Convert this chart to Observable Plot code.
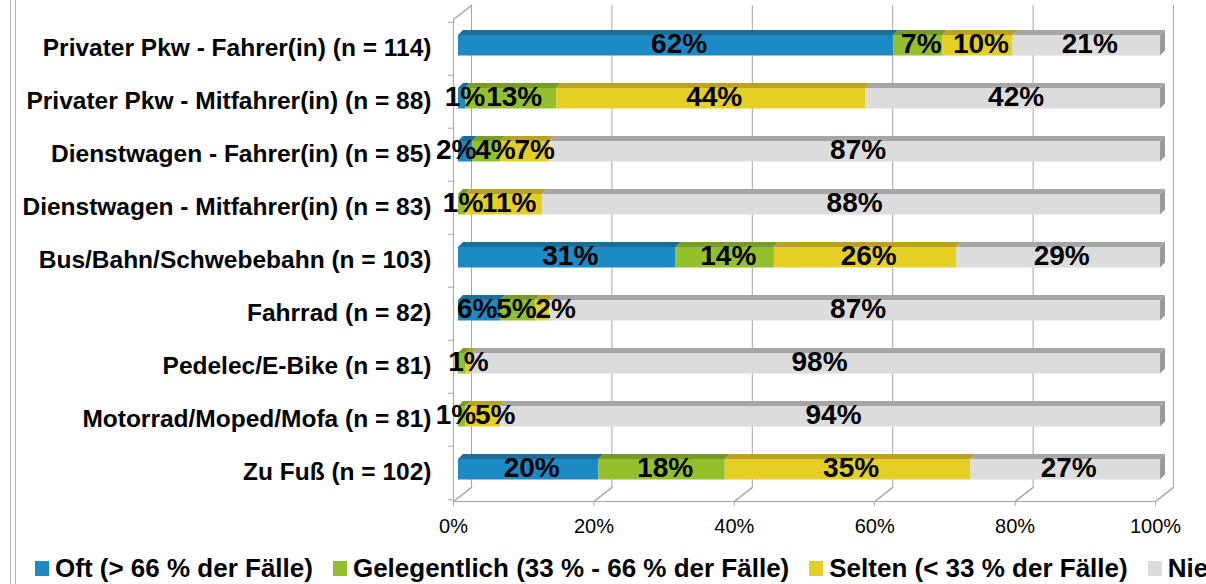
<!DOCTYPE html>
<html><head><meta charset="utf-8">
<script src="https://cdn.jsdelivr.net/npm/d3@7"></script>
<script src="https://cdn.jsdelivr.net/npm/@observablehq/plot@0.6"></script>
<style>
html,body{margin:0;padding:0;background:#fff;overflow:hidden;width:1206px;height:584px}
#wrap{position:relative;width:1206px;height:584px;font-family:"Liberation Sans",Arial,sans-serif}
#chart{position:absolute;left:0;top:0}
#border{position:absolute;left:10px;top:0;width:4px;height:584px;border-left:1px solid #b5b5b5;border-right:1px solid #b5b5b5}
#legend{position:absolute;left:0;top:553px;width:1206px;height:31px;display:flex;align-items:center;white-space:nowrap;overflow:hidden;font-weight:bold;font-size:26px;padding-left:35px;box-sizing:border-box;color:#000}
.item{display:flex;align-items:center;margin-right:20px;flex:none}
.sw{width:14px;height:15px;margin-right:6px;flex:none}
</style></head><body><div id="wrap"><div id="chart"></div><div id="legend"></div><div id="border"></div></div>
<script>
const categories = [
  "Privater Pkw - Fahrer(in) (n = 114)",
  "Privater Pkw - Mitfahrer(in) (n = 88)",
  "Dienstwagen - Fahrer(in) (n = 85)",
  "Dienstwagen - Mitfahrer(in) (n = 83)",
  "Bus/Bahn/Schwebebahn (n = 103)",
  "Fahrrad (n = 82)",
  "Pedelec/E-Bike (n = 81)",
  "Motorrad/Moped/Mofa (n = 81)",
  "Zu Fuß (n = 102)"
];
const seriesNames = ["Oft (> 66 % der Fälle)", "Gelegentlich (33 % - 66 % der Fälle)", "Selten (< 33 % der Fälle)", "Nie"];
const oft          = [62, 1, 2, 0, 31, 6, 0, 0, 20];
const gelegentlich = [7, 13, 4, 1, 14, 5, 1, 1, 18];
const selten       = [10, 44, 7, 11, 26, 2, 1, 5, 35];
const nie          = [21, 42, 87, 88, 29, 87, 98, 94, 27];
const xTicks = [0, 20, 40, 60, 80, 100];

const frontColors = ["#1c8ac4", "#94c02c", "#e5cf24", "#dcdcdc"];
const topColors = ["#1b6e96", "#789b2a", "#b9a226", "#a6a6a6"];
const sideColor = "#9a9a9a";
const gridColor = "#a6a6a6";
const fontFamily = '"Liberation Sans", Arial, sans-serif';
const labelSize = 28;

const seriesValues = [oft, gelegentlich, selten, nie];
const rows = [];
categories.forEach((cat, i) => {
  let acc = 0;
  seriesValues.forEach((vals, s) => {
    const v = vals[i];
    rows.push({cat, s, series: seriesNames[s], value: v, x1: acc, x2: acc + v, text: v + "%"});
    acc += v;
  });
});
const shown = rows.filter(d => d.value > 0);

const W = 1206, H = 548, mTop = 19, mBottom = 47, mLeft = 458, mRight = 46;
const step = (H - mTop - mBottom) / categories.length;
const pxPerUnit = (W - mLeft - mRight) / 100;
const insetTop = 13, insetBottom = 19.5, depth = 5;
const lineShape = {draw(context, l) { context.moveTo(0, 0); context.lineTo(0, -l); }};

// label placement: centred in segment, overlapping labels spread as a block (like the source chart)
const ctx = document.createElement("canvas").getContext("2d");
ctx.font = `bold ${labelSize}px ${fontFamily}`;
const labels = [];
categories.forEach(cat => {
  let items = shown.filter(d => d.cat === cat).map(d => ({
    d, c: (d.x1 + d.x2) / 2 * pxPerUnit, w: ctx.measureText(d.text).width * 0.97
  }));
  // identical labels that sit almost on top of each other are shown once
  const merged = [];
  for (const it of items) {
    const last = merged[merged.length - 1];
    if (last && last.d.text === it.d.text && Math.abs(last.c - it.c) < last.w / 2) {
      last.c = (last.c + it.c) / 2;
    } else merged.push({...it});
  }
  const clusters = [];
  const layout = cl => {
    let off = 0, sum = 0;
    cl.items.forEach(it => { sum += it.c - (off + it.w / 2); off += it.w; });
    cl.width = off;
    cl.start = sum / cl.items.length;
  };
  for (const it of merged) {
    const cl = {items: [it]};
    layout(cl);
    clusters.push(cl);
    while (clusters.length > 1) {
      const a = clusters[clusters.length - 2], b = clusters[clusters.length - 1];
      if (a.start + a.width > b.start) {
        clusters.splice(clusters.length - 2, 2, {items: a.items.concat(b.items)});
        layout(clusters[clusters.length - 1]);
      } else break;
    }
  }
  for (const cl of clusters) {
    let off = cl.start;
    for (const it of cl.items) {
      labels.push({cat, text: it.d.text, x: (off + it.w / 2) / pxPerUnit});
      off += it.w;
    }
  }
});

function faces(index, scales) {
  const x = scales.x, y = scales.y;
  const bw = y.bandwidth ? y.bandwidth() : step;
  const g = d3.create("svg:g");
  for (const r of shown) {
    const xa = x(r.x1), xb = x(r.x2);
    const t = y(r.cat) + insetTop;
    const b = y(r.cat) + bw - insetBottom;
    g.append("path")
      .attr("d", `M${xa},${t}L${xb},${t}L${xb + depth},${t - depth}L${xa + depth},${t - depth}Z`)
      .attr("fill", topColors[r.s]);
    if (r.s === 3) {
      g.append("path")
        .attr("d", `M${xb},${t}L${xb + depth},${t - depth}L${xb + depth},${b - depth}L${xb},${b}Z`)
        .attr("fill", sideColor);
    }
  }
  return g.node();
}

const chart = Plot.plot({
  width: W, height: H,
  marginTop: mTop, marginBottom: mBottom, marginLeft: mLeft, marginRight: mRight,
  style: {fontFamily, fontSize: "20px", color: "#000", background: "transparent", overflow: "visible"},
  x: {domain: [0, 100], axis: null, label: null},
  y: {type: "band", domain: categories, padding: 0, axis: null, label: null},
  color: {domain: seriesNames, range: frontColors},
  marks: [
    Plot.ruleX(xTicks, {x: d => d, dx: 13, dy: -14, stroke: gridColor}),
    Plot.vector(xTicks, {x: d => d, frameAnchor: "bottom", dx: -5, length: 23, rotate: 52, anchor: "start", shape: lineShape, stroke: gridColor}),
    Plot.vector([0], {x: d => d, frameAnchor: "top", dx: -5, length: 23, rotate: 52, anchor: "start", shape: lineShape, stroke: gridColor}),
    Plot.ruleX([0], {x: d => d, dx: -5, stroke: gridColor}),
    Plot.frame({anchor: "bottom", dx: -5, stroke: gridColor}),
    Plot.axisY({ticks: categories, tickSize: 5, dx: -5, dy: -step / 2, tickFormat: () => "", label: null, stroke: gridColor}),
    Plot.axisY({ticks: [categories[categories.length - 1]], tickSize: 5, dx: -5, dy: step / 2, tickFormat: () => "", label: null, stroke: gridColor}),
    Plot.barX(shown, {x1: "x1", x2: "x2", y: "cat", fill: "series", insetTop, insetBottom}),
    faces,
    Plot.text(labels, {x: "x", y: "cat", text: "text", fontSize: labelSize, fontWeight: "bold", fill: "#000", dx: 3, dy: -5}),
    Plot.text(categories, {y: d => d, frameAnchor: "left", dx: -27, dy: -1, textAnchor: "end", fontSize: 24.5, fontWeight: "bold", fill: "#000"}),
    Plot.axisX(xTicks, {tickFormat: d => d + "%", tickSize: 5, tickPadding: 12, dx: -5, label: null, stroke: gridColor, fontSize: 20, fill: "#000"})
  ]
});
document.getElementById("chart").appendChild(chart);

const legend = document.getElementById("legend");
seriesNames.forEach((name, s) => {
  const item = document.createElement("div");
  item.className = "item";
  const sw = document.createElement("span");
  sw.className = "sw";
  sw.style.background = frontColors[s];
  const label = document.createElement("span");
  label.textContent = name;
  item.appendChild(sw);
  item.appendChild(label);
  legend.appendChild(item);
});
</script></body></html>
